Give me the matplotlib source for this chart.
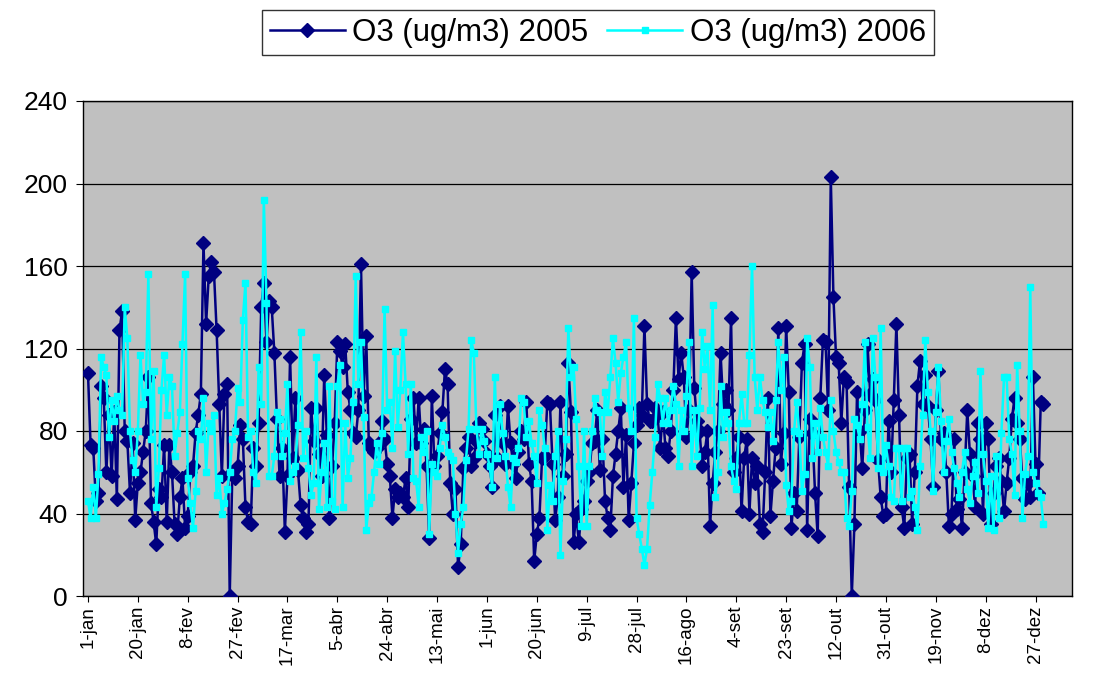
import numpy as np
import matplotlib
matplotlib.use("Agg")
import matplotlib.pyplot as plt

# daily O3 values (ug/m3), 365 days each
o3_2005 = [
    108, 73, 72, 46, 50, 102, 96, 60, 88, 58,
    89, 47, 129, 138, 80, 75, 50, 74, 37, 55,
    60, 70, 80, 106, 45, 36, 25, 52, 48, 73,
    36, 73, 60, 35, 30, 48, 57, 33, 39, 60,
    63, 79, 88, 98, 171, 132, 155, 162, 157, 129,
    93, 58, 98, 103, 0, 60, 57, 63, 83, 76,
    43, 36, 35, 72, 63, 84, 140, 152, 123, 143,
    140, 118, 86, 58, 72, 31, 58, 116, 67, 96,
    61, 44, 38, 31, 35, 91, 75, 91, 69, 58,
    107, 78, 38, 63, 84, 123, 119, 111, 122, 99,
    90, 79, 77, 90, 161, 97, 126, 74, 72, 70,
    72, 74, 85, 76, 64, 58, 38, 52, 48, 50,
    48, 57, 43, 86, 96, 74, 96, 74, 81, 63,
    28, 97, 63, 68, 79, 89, 110, 103, 55, 40,
    52, 14, 25, 62, 72, 77, 63, 67, 75, 84,
    81, 75, 69, 63, 53, 88, 67, 92, 74, 64,
    92, 74, 64, 57, 70, 80, 76, 94, 64, 56,
    17, 30, 38, 67, 68, 94, 93, 64, 37, 48,
    94, 58, 69, 113, 89, 26, 40, 26, 42, 46,
    56, 60, 74, 75, 90, 61, 76, 46, 38, 32,
    58, 69, 80, 91, 53, 78, 37, 55, 74, 83,
    91, 88, 131, 93, 85, 85, 91, 88, 72, 89,
    72, 68, 80, 100, 135, 105, 118, 106, 77, 90,
    157, 101, 85, 80, 63, 70, 80, 34, 55, 70,
    80, 118, 93, 100, 90, 135, 60, 67, 77, 41,
    67, 76, 40, 67, 55, 63, 35, 31, 60, 96,
    39, 56, 72, 130, 64, 79, 131, 99, 33, 50,
    41, 77, 113, 122, 32, 86, 79, 50, 29, 96,
    124, 123, 90, 203, 145, 116, 113, 84, 106, 104,
    53, 0, 35, 99, 80, 62, 90, 122, 98, 105,
    95, 66, 48, 39, 40, 85, 60, 95, 132, 88,
    43, 33, 67, 69, 35, 60, 102, 114, 93, 107,
    92, 76, 53, 90, 109, 76, 79, 60, 34, 40,
    76, 42, 47, 33, 60, 90, 69, 58, 43, 84,
    76, 40, 84, 76, 35, 50, 63, 67, 56, 41,
    55, 67, 86, 96, 84, 76, 57, 47, 55, 48,
    106, 64, 50, 94, 93,
]

o3_2006 = [
    46, 38, 53, 38, 59, 116, 111, 107, 77, 95,
    85, 97, 90, 88, 140, 125, 80, 66, 60, 80,
    117, 93, 99, 156, 76, 109, 43, 62, 100, 117,
    88, 106, 102, 68, 79, 89, 122, 156, 57, 45,
    33, 51, 80, 76, 96, 60, 84, 80, 88, 49,
    57, 40, 45, 52, 60, 76, 80, 101, 94, 134,
    152, 77, 80, 60, 55, 111, 93, 192, 142, 58,
    58, 68, 89, 86, 68, 79, 103, 56, 60, 63,
    83, 128, 67, 80, 62, 49, 55, 116, 42, 60,
    74, 43, 102, 46, 42, 102, 112, 43, 84, 57,
    67, 94, 155, 103, 123, 87, 32, 45, 48, 60,
    74, 64, 79, 139, 90, 94, 72, 119, 82, 100,
    128, 103, 69, 103, 57, 56, 43, 77, 70, 80,
    30, 64, 60, 58, 72, 83, 77, 70, 68, 66,
    40, 21, 35, 43, 66, 81, 124, 118, 81, 69,
    81, 75, 69, 63, 53, 106, 67, 93, 79, 68,
    53, 43, 67, 65, 72, 96, 94, 77, 85, 74,
    68, 55, 90, 83, 72, 32, 54, 46, 68, 80,
    20, 56, 76, 130, 106, 111, 86, 63, 34, 80,
    34, 63, 80, 96, 90, 89, 68, 99, 89, 106,
    125, 113, 94, 108, 116, 123, 91, 80, 135, 38,
    30, 23, 15, 23, 44, 60, 77, 103, 96, 84,
    96, 84, 90, 102, 93, 63, 90, 80, 97, 123,
    63, 90, 68, 91, 128, 110, 121, 90, 141, 48,
    60, 102, 77, 89, 84, 63, 56, 52, 84, 98,
    84, 84, 117, 160, 106, 90, 106, 95, 89, 82,
    89, 75, 95, 123, 100, 116, 54, 41, 46, 80,
    94, 79, 51, 59, 125, 111, 67, 84, 70, 91,
    77, 70, 63, 95, 80, 70, 65, 60, 60, 38,
    34, 51, 86, 83, 76, 93, 123, 82, 67, 125,
    106, 62, 130, 60, 73, 63, 48, 46, 72, 72,
    46, 72, 72, 48, 51, 43, 32, 63, 88, 124,
    99, 80, 51, 89, 111, 85, 60, 75, 86, 70,
    62, 55, 48, 60, 70, 52, 45, 58, 65, 50,
    109, 69, 56, 33, 58, 32, 68, 38, 79, 106,
    106, 76, 69, 49, 112, 80, 38, 59, 68, 150,
    60, 55, 50, 48, 35,
]

tick_labels = ["1-jan", "20-jan", "8-fev", "27-fev", "17-mar", "5-abr", "24-abr",
               "13-mai", "1-jun", "20-jun", "9-jul", "28-jul", "16-ago", "4-set",
               "23-set", "12-out", "31-out", "19-nov", "8-dez", "27-dez"]

plt.rcParams['font.family'] = ['Liberation Sans', 'DejaVu Sans']

fig = plt.figure(figsize=(10.99, 6.97), dpi=100)
ax = fig.add_axes([83 / 1099, 1 - 596 / 697, (1072 - 83) / 1099, (596 - 101) / 697])
ax.set_facecolor('#C0C0C0')

x = np.arange(len(o3_2005))
ax.plot(x, o3_2005, color='#000080', lw=1.8, marker='D', ms=7,
        label='O3 (ug/m3) 2005', zorder=3)
ax.plot(np.arange(len(o3_2006)), o3_2006, color='#00FFFF', lw=1.8, marker='s', ms=4.5,
        label='O3 (ug/m3) 2006', zorder=4)

ax.set_ylim(0, 240)
ax.set_yticks(range(0, 241, 40))
ax.set_xlim(-1.9, 374.9)
ax.set_xticks(np.arange(0, 19 * len(tick_labels), 19))
ax.set_xticklabels(tick_labels, rotation=90, fontsize=13.5)
ax.tick_params(axis='y', labelsize=19, length=5, direction='out', pad=6)
ax.tick_params(axis='x', length=4, direction='out', pad=3)
ax.yaxis.grid(True, color='black', lw=0.9)
ax.set_axisbelow(True)
for s in ax.spines.values():
    s.set_color('black')
    s.set_linewidth(1)

fig.legend(loc='upper center', bbox_to_anchor=(0.544, 0.986), ncol=2, fontsize=22.5,
           frameon=True, fancybox=False, edgecolor='black', handlelength=2.4,
           borderpad=0.25, columnspacing=0.6, handletextpad=0.25, borderaxespad=0)

fig.savefig('out.png', dpi=100)
